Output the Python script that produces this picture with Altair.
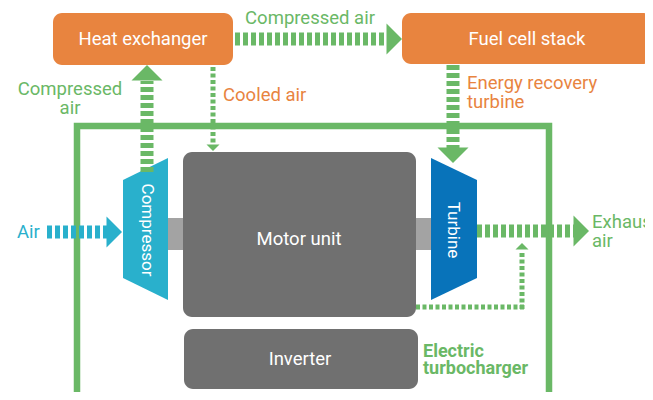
import math
import altair as alt
import pandas as pd

FONT = "Roboto"
GREEN = "#6AB866"
ORANGE = "#E8843F"
CYAN = "#29B0CC"
BLUE = "#0873BA"
GRAY = "#707070"
SHAFT_GRAY = "#A3A3A3"

# ---- rounded boxes ----
box_names = ["Heat exchanger", "Fuel cell stack", "Motor unit", "Inverter"]
box_x1 = [53, 402, 183, 184]
box_x2 = [233, 652, 416, 418]
box_y1 = [13, 13, 152, 329]
box_y2 = [65, 64, 317, 389]
box_colors = [ORANGE, ORANGE, GRAY, GRAY]

# ---- shaft through motor ----
shaft_x1 = [168]
shaft_x2 = [431]
shaft_y1 = [218]
shaft_y2 = [250]

# ---- electric turbocharger frame ----
frame_x1 = [77]
frame_x2 = [549]
frame_y1 = [126]
frame_y2 = [440]

# ---- compressor / turbine housings (trapezoids) ----
housing_names = ["Compressor", "Compressor", "Turbine", "Turbine"]
housing_x = [123, 168, 431, 477]
housing_top = [180, 158, 158, 180]
housing_bottom = [278, 300, 300, 278]
housing_colors = [CYAN, CYAN, BLUE, BLUE]

# ---- thick dashed arrows ----
thick_names = ["Compressed air (top)", "Compressed air (up)", "Energy recovery", "Air", "Exhaust"]
thick_x1 = [235, 147, 453, 47, 477]
thick_y1 = [39, 172, 65, 232, 231]
thick_x2 = [386, 147, 453, 108, 574]
thick_y2 = [39, 81, 148, 232, 231]
thick_tip_x = [402, 147, 453, 122, 589]
thick_tip_y = [39, 65, 163, 232, 231]
thick_dir = [0, 270, 90, 0, 0]
thick_colors = [GREEN, GREEN, GREEN, CYAN, GREEN]

# ---- thin dotted arrows (segments) ----
thin_x1 = [213, 416, 522]
thin_y1 = [67, 307, 309]
thin_x2 = [213, 524, 522]
thin_y2 = [144, 307, 251]
thin_tip_x = [213, 522]
thin_tip_y = [151, 243]
thin_dir = [90, 270]

# ---- labels (y = centre of the first line) ----
center_text = ["Heat exchanger", "Fuel cell stack", "Motor unit", "Inverter",
               "Compressed air", "Compressed\nair"]
center_x = [143, 527, 299, 300, 310, 70]
center_y = [39, 39, 239, 359, 18, 89]
center_colors = ["white", "white", "white", "white", GREEN, GREEN]

rot_text = ["Compressor", "Turbine"]
rot_x = [147, 453]
rot_y = [230, 230]

left_text = ["Cooled air", "Energy recovery\nturbine", "Air", "Exhaust\nair"]
left_x = [223, 467, 17, 592]
left_y = [95, 83, 232, 222]
left_colors = [ORANGE, ORANGE, CYAN, GREEN]

bold_text = ["Electric\nturbocharger"]
bold_x = [423]
bold_y = [352]

xs = alt.Scale(domain=[8, 645], nice=False, zero=False)
ys = alt.Scale(domain=[392, 8], nice=False, zero=False)


def X(f):
    return alt.X(f, type="quantitative", scale=xs, axis=None)


def Y(f):
    return alt.Y(f, type="quantitative", scale=ys, axis=None)


C = alt.Color("c:N", scale=None, legend=None)

boxes = pd.DataFrame({"n": box_names, "x": box_x1, "x2": box_x2, "y": box_y1, "y2": box_y2, "c": box_colors})
shaft = pd.DataFrame({"x": shaft_x1, "x2": shaft_x2, "y": shaft_y1, "y2": shaft_y2})
frame = pd.DataFrame({"x": frame_x1, "x2": frame_x2, "y": frame_y1, "y2": frame_y2})
housing = pd.DataFrame({"n": housing_names, "x": housing_x, "y": housing_top, "y2": housing_bottom, "c": housing_colors})
thick = pd.DataFrame({"n": thick_names, "x": thick_x1, "y": thick_y1, "x2": thick_x2, "y2": thick_y2, "c": thick_colors})

HEAD_SHAPE = "M-0.5,-1L0.5,0L-0.5,1Z"
THICK_HEAD = 31
THIN_HEAD = 13


def head_centers(tx, ty, d, length):
    cx, cy = [], []
    for a, b, ang in zip(tx, ty, d):
        r = math.radians(ang)
        cx.append(a - math.cos(r) * length / 2)
        cy.append(b - math.sin(r) * length / 2)
    return cx, cy


thx, thy = head_centers(thick_tip_x, thick_tip_y, thick_dir, THICK_HEAD / 2)
thick_heads = pd.DataFrame({"x": thx, "y": thy, "a": thick_dir, "c": thick_colors})
thin = pd.DataFrame({"x": thin_x1, "y": thin_y1, "x2": thin_x2, "y2": thin_y2})
tnx, tny = head_centers(thin_tip_x, thin_tip_y, thin_dir, THIN_HEAD / 2)
thin_heads = pd.DataFrame({"x": tnx, "y": tny, "a": thin_dir})

ctext = pd.DataFrame({"t": center_text, "x": center_x, "y": center_y, "c": center_colors})
rtext = pd.DataFrame({"t": rot_text, "x": rot_x, "y": rot_y})
ltext = pd.DataFrame({"t": left_text, "x": left_x, "y": left_y, "c": left_colors})
btext = pd.DataFrame({"t": bold_text, "x": bold_x, "y": bold_y})

frame_layer = alt.Chart(frame).mark_rect(fill=None, stroke=GREEN, strokeWidth=6.5, clip=True).encode(
    x=X("x"), x2="x2", y=Y("y"), y2="y2")
shaft_layer = alt.Chart(shaft).mark_rect(color=SHAFT_GRAY, clip=True).encode(
    x=X("x"), x2="x2", y=Y("y"), y2="y2")
box_layer = alt.Chart(boxes).mark_rect(cornerRadius=9, clip=True).encode(
    x=X("x"), x2="x2", y=Y("y"), y2="y2", color=C)
housing_layer = alt.Chart(housing).mark_area(clip=True, orient="vertical").encode(
    x=X("x"), y=Y("y"), y2="y2", color=C, detail="n:N")
thick_layer = alt.Chart(thick).mark_rule(strokeWidth=13, strokeDash=[5, 3], strokeCap="butt", clip=True).encode(
    x=X("x"), y=Y("y"), x2="x2", y2="y2", color=C)
thick_head_layer = alt.Chart(thick_heads).mark_point(
    shape=HEAD_SHAPE, filled=True, opacity=1, size=THICK_HEAD ** 2, strokeWidth=0, clip=True).encode(
    x=X("x"), y=Y("y"), angle=alt.Angle("a:Q", scale=None), color=C)
thin_layer = alt.Chart(thin).mark_rule(strokeWidth=5, strokeDash=[4, 2.5], strokeCap="butt", color=GREEN, clip=True).encode(
    x=X("x"), y=Y("y"), x2="x2", y2="y2")
thin_head_layer = alt.Chart(thin_heads).mark_point(
    shape=HEAD_SHAPE, filled=True, opacity=1, size=THIN_HEAD ** 2, strokeWidth=0, color=GREEN, clip=True).encode(
    x=X("x"), y=Y("y"), angle=alt.Angle("a:Q", scale=None))

ctext_layer = alt.Chart(ctext).mark_text(font=FONT, fontSize=18.5, align="center", baseline="middle",
                                         lineBreak="\n", lineHeight=19, clip=True).encode(
    x=X("x"), y=Y("y"), text="t:N", color=C)
rtext_layer = alt.Chart(rtext).mark_text(font=FONT, fontSize=17, align="center", baseline="middle",
                                         angle=90, color="white", clip=True).encode(
    x=X("x"), y=Y("y"), text="t:N")
ltext_layer = alt.Chart(ltext).mark_text(font=FONT, fontSize=18.5, align="left", baseline="middle",
                                         lineBreak="\n", lineHeight=19, clip=True).encode(
    x=X("x"), y=Y("y"), text="t:N", color=C)
btext_layer = alt.Chart(btext).mark_text(font=FONT, fontSize=18, fontWeight="bold", align="left",
                                         baseline="middle", lineBreak="\n", lineHeight=16.5, color=GREEN,
                                         clip=True).encode(
    x=X("x"), y=Y("y"), text="t:N")

chart = alt.layer(
    frame_layer, shaft_layer, box_layer, housing_layer,
    thick_layer, thick_head_layer, thin_layer, thin_head_layer,
    ctext_layer, rtext_layer, ltext_layer, btext_layer,
).properties(
    width=637, height=384, padding=0, autosize=alt.AutoSizeParams(type="none")
).configure_view(stroke=None)

chart.save("out.html", embed_options={"renderer": "svg", "actions": False})
